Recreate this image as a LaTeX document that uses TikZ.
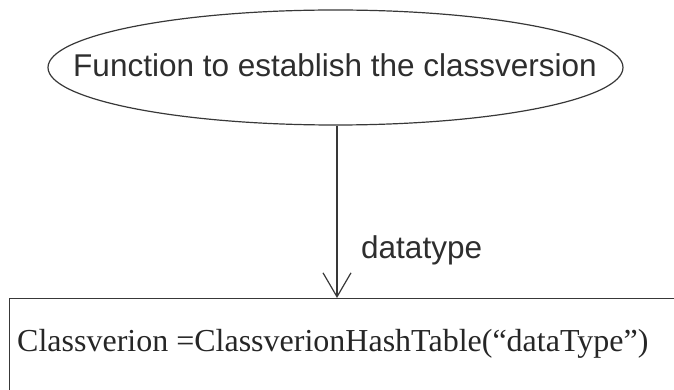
\documentclass[tikz,border=0pt]{standalone}
\usepackage{fontspec}
\setmainfont{Liberation Serif}
\newfontfamily\arialfont{Liberation Sans}
\usetikzlibrary{shapes.geometric,arrows.meta}
\definecolor{inkline}{HTML}{383838}
\definecolor{inktext}{HTML}{2E2E2E}
\tikzset{
  outline/.style={draw=inkline, line width=1.2pt},
  flowarrow/.style={draw=inkline, line width=1.2pt,
    -{Straight Barb[length=24pt,width=28pt,line width=1.2pt]}},
  sanslabel/.style={font=\arialfont\fontsize{31.5}{36}\selectfont, text=inktext, inner sep=0pt},
  seriflabel/.style={font=\fontsize{32}{38}\selectfont, text=black!85, inner sep=0pt}
}
\begin{document}
\begin{tikzpicture}[x=1pt,y=-1pt]
  \useasboundingbox (0,0) rectangle (674,390);
  \clip (0,0) rectangle (674,390);
  % function node: outline and its caption
  \node[ellipse, outline, minimum width=575pt, minimum height=115pt, inner sep=0pt]
        (func) at (335.5,67.5) {};
  \node[sanslabel, anchor=base] (functext) at (335,77)
        {Function to establish the classversion};
  % result box, running past the page edge
  \node[outline, rectangle, minimum width=720pt, minimum height=140pt,
        anchor=north west, inner sep=0pt] (box) at (9,298) {};
  \node[seriflabel, anchor=base west] (code) at (17,351)
    {Classverion =ClassverionHashTable(“dataType”)};
  % connector
  \draw[flowarrow] ([xshift=1.5pt]func.south) -- ([xshift=1.5pt]func.south |- box.north);
  \node[sanslabel, anchor=base west] (dtype) at (361,258) {datatype};
\end{tikzpicture}
\end{document}
